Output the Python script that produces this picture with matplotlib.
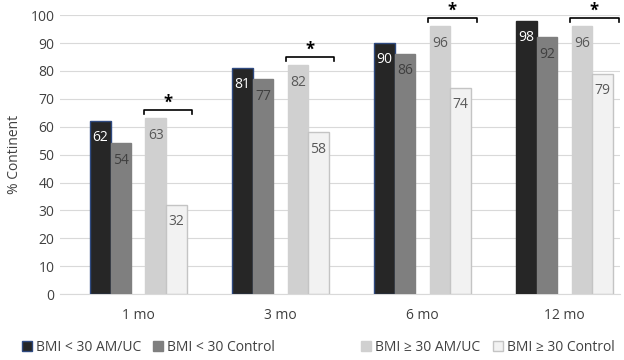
import numpy as np
import matplotlib.pyplot as plt
from matplotlib.patches import Patch

plt.rcParams['font.family'] = ['Open Sans', 'DejaVu Sans']

months = ['1 mo', '3 mo', '6 mo', '12 mo']
low_am = [62, 81, 90, 98]
low_ctrl = [54, 77, 86, 92]
high_am = [63, 82, 96, 96]
high_ctrl = [32, 58, 74, 79]
series_names = ['BMI < 30 AM/UC', 'BMI < 30 Control', 'BMI \u2265 30 AM/UC', 'BMI \u2265 30 Control']

fig = plt.figure(figsize=(6.24, 3.6), dpi=100)
ax = fig.add_axes([0.096, 0.183, 0.897, 0.775])

x = np.arange(len(months))
w = 0.145
offs = [-0.265, -0.12, 0.125, 0.27]
fills = ['#262626', '#7f7f7f', '#d0d0d0', '#f2f2f2']
edges = ['#2f4a80', '#7f7f7f', '#d0d0d0', '#c4c4c4']
txt_c = ['white', '#404040', '#595959', '#595959']
data = [low_am, low_ctrl, high_am, high_ctrl]

for k in range(4):
    ec = [edges[k]] * 4
    if k == 0:
        ec = [edges[0]] * 3 + ['#262626']
    bars = ax.bar(x + offs[k], data[k], w, color=fills[k], edgecolor=ec,
                  linewidth=1.0, zorder=3)
    for b, v in zip(bars, data[k]):
        ax.text(b.get_x() + b.get_width() / 2, v - 6, str(v), ha='center',
                va='center', fontsize=10, color=txt_c[k], zorder=4)

# significance brackets over BMI >= 30 pairs
for i in range(len(months)):
    top = max(high_am[i], high_ctrl[i]) + 3
    x0 = x[i] + offs[2] - w / 2 - 0.01
    x1 = x[i] + offs[3] + w / 2 + 0.04
    ax.plot([x0, x0, x1, x1], [top - 1.5, top, top, top - 1.5], color='black',
            lw=1.2, zorder=5, clip_on=False)
    ax.text((x0 + x1) / 2, top - 0.8, '*', ha='center', va='bottom',
            fontsize=12, fontweight='bold', zorder=5)

ax.set_xlim(-0.55, 3.39)
ax.set_ylim(0, 100)
ax.set_yticks(range(0, 101, 10))
ax.set_xticks(x)
ax.set_xticklabels(months)
ax.tick_params(axis='y', length=0, labelsize=10, colors='#404040', pad=4)
ax.tick_params(axis='x', length=0, labelsize=10, colors='#404040', pad=10)
ax.yaxis.grid(True, color='#d9d9d9', lw=0.8, zorder=0)
for s in ['top', 'right', 'left']:
    ax.spines[s].set_visible(False)
ax.spines['bottom'].set_color('#d9d9d9')
ax.set_ylabel('% Continent', fontsize=10, color='#404040', labelpad=6)

left_h = [Patch(facecolor=fills[0], edgecolor=edges[0]),
          Patch(facecolor=fills[1], edgecolor=edges[1])]
right_h = [Patch(facecolor=fills[2], edgecolor=edges[2]),
           Patch(facecolor=fills[3], edgecolor=edges[3])]
leg_kw = dict(ncol=2, frameon=False, fontsize=10, handlelength=0.7,
              handleheight=0.7, handletextpad=0.3, columnspacing=0.9,
              labelcolor='#404040', borderaxespad=0, borderpad=0)
fig.legend(left_h, series_names[:2], loc='center left',
           bbox_to_anchor=(0.035, 0.035), **leg_kw)
fig.legend(right_h, series_names[2:], loc='center right',
           bbox_to_anchor=(0.985, 0.035), **leg_kw)

fig.savefig('out.png', dpi=100)
